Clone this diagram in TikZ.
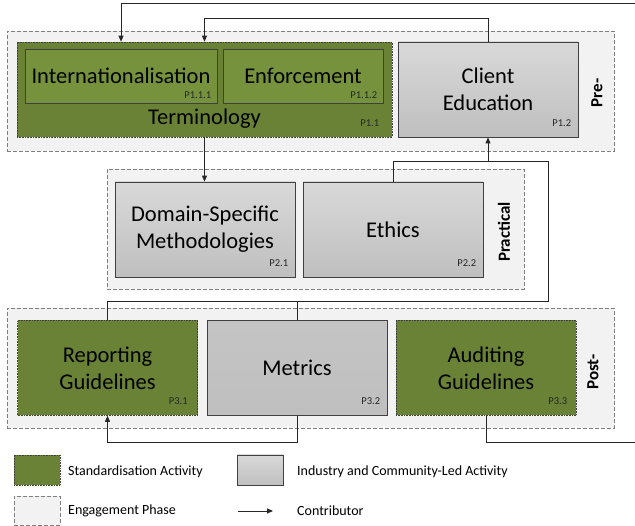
\documentclass[tikz,border=0pt]{standalone}
\usepackage{fontspec}
\setmainfont{Carlito}
\usetikzlibrary{arrows.meta}

\definecolor{phasefill}{HTML}{F2F2F2}
\definecolor{phaseline}{HTML}{7F7F7F}
\definecolor{stdgreen}{HTML}{6A8236}
\definecolor{subgreen}{HTML}{76923C}
\definecolor{boxline}{HTML}{404040}
\definecolor{greytop}{HTML}{D9D9D9}
\definecolor{greybot}{HTML}{BFBFBF}
\definecolor{wire}{HTML}{262626}

\tikzset{
  phase/.style={draw=phaseline, fill=phasefill, line width=0.8pt,
    dash pattern=on 4pt off 2pt, minimum width=607pt, minimum height=120pt,
    inner sep=0pt},
  stdbox/.style={draw=boxline, fill=stdgreen, line width=0.6pt, densely dotted,
    minimum width=180pt, minimum height=95pt, inner sep=0pt, align=center,
    font=\fontsize{22.5}{27}\selectfont},
  subbox/.style={draw=boxline, fill=subgreen, line width=0.7pt,
    minimum height=54pt, inner sep=0pt, align=center,
    font=\fontsize{22.5}{27}\selectfont},
  indbox/.style={draw=boxline, top color=greytop, bottom color=greybot,
    line width=0.8pt, minimum width=180pt, minimum height=95pt, inner sep=0pt,
    align=center, font=\fontsize{22.5}{27}\selectfont},
  tag/.style={anchor=base east, inner sep=0pt,
    font=\fontsize{10.5}{12}\selectfont, text=black!85},
  phasename/.style={rotate=90, font=\bfseries\fontsize{17}{20}\selectfont},
  legendtext/.style={anchor=west, inner sep=0pt, font=\fontsize{14}{17}\selectfont},
  wireline/.style={draw=wire, line width=0.9pt},
  conn/.style={wireline, -{Triangle[length=6pt,width=5pt]}},
}

\begin{document}
\begin{tikzpicture}[x=1pt,y=-1pt]
\useasboundingbox (0,0) rectangle (635,526);

% engagement phases
\node[phase] (pre) at (310.5,91) {};
\node[phase, minimum width=417pt] (prac) at (315.5,229) {};
\node[phase] (post) at (310.5,368) {};

% pre-engagement activities
\node[stdbox, minimum width=375pt] (term) at (204.5,89.5) {};
\node[anchor=center, font=\fontsize{22.5}{27}\selectfont] (termtext) at (204.5,119) {Terminology};
\node[tag, xshift=-13pt, yshift=10.5pt] (termtag) at (term.south east) {P1.1};
\node[subbox, minimum width=192pt] (intl) at (121,76) {Internationalisation};
\node[tag, xshift=-6pt, yshift=4.5pt] (intltag) at (intl.south east) {P1.1.1};
\node[subbox, minimum width=160pt] (enf) at (303,76) {Enforcement};
\node[tag, xshift=-6pt, yshift=4.5pt] (enftag) at (enf.south east) {P1.1.2};
\node[indbox] (client) at (488,89.5) {Client\\Education};
\node[tag, xshift=-7pt, yshift=10.5pt] (clienttag) at (client.south east) {P1.2};
\node[phasename] (prelabel) at (597,93) {Pre-};

% practical engagement activities
\node[indbox] (dom) at (205,229.5) {Domain-Specific\\Methodologies};
\node[tag, xshift=-7pt, yshift=10.5pt] (domtag) at (dom.south east) {P2.1};
\node[indbox] (eth) at (393,229.5) {Ethics};
\node[tag, xshift=-7pt, yshift=10.5pt] (ethtag) at (eth.south east) {P2.2};
\node[phasename] (praclabel) at (504,232) {Practical};

% post-engagement activities
\node[stdbox] (rep) at (107.5,368) {Reporting\\Guidelines};
\node[tag, xshift=-10pt, yshift=11pt] (reptag) at (rep.south east) {P3.1};
\node[indbox, top color=greybot!80!greytop] (met) at (297,368) {Metrics};
\node[tag, xshift=-7pt, yshift=11pt] (mettag) at (met.south east) {P3.2};
\node[stdbox] (aud) at (486,368) {Auditing\\Guidelines};
\node[tag, xshift=-9pt, yshift=11pt] (audtag) at (aud.south east) {P3.3};
\node[phasename] (postlabel) at (593,372) {Post-};

% contributor routes
\coordinate (rb) at (637,442);
\coordinate (rt) at (637,3);
\coordinate (east) at (548,161);
\coordinate (bus) at (548,301);

\draw[conn] (aud.south) |- (rb) -- (rt) -| (term.north -| intl.north);
\draw[conn] (client.north) -- ++(0,-23) -| (term.north);
\draw[conn] (term.south) -- (term.south |- dom.north);
\draw[wireline] (eth.north) |- (east);
\draw[conn] (met.north) |- (bus) |- (client.south |- east) -- (client.south);
\draw[wireline] (rep.north) |- (met.north |- bus);
\draw[conn] (met.south) -- ++(0,27) -| (rep.south);

% legend
\node[draw=boxline, fill=stdgreen, line width=0.6pt, densely dotted,
  minimum width=46pt, minimum height=30pt, inner sep=0pt] (lstd) at (37,470) {};
\node[legendtext] (lstdtext) at (68,472) {Standardisation Activity};
\node[draw=boxline, top color=greytop, bottom color=greybot, line width=0.8pt,
  minimum width=46pt, minimum height=30pt, inner sep=0pt] (lind) at (260,470) {};
\node[legendtext] (lindtext) at (297,472) {Industry and Community-Led Activity};
\node[draw=phaseline, fill=phasefill, line width=0.8pt, dash pattern=on 4pt off 2pt,
  minimum width=46pt, minimum height=29pt, inner sep=0pt] (lphase) at (37,510.5) {};
\node[legendtext] (lphasetext) at (68,511) {Engagement Phase};
\coordinate (larrowstart) at (238,511);
\node[legendtext] (lconntext) at (297,511) {Contributor};
\draw[conn] (larrowstart) -- (larrowstart -| 273,0);
\end{tikzpicture}
\end{document}
